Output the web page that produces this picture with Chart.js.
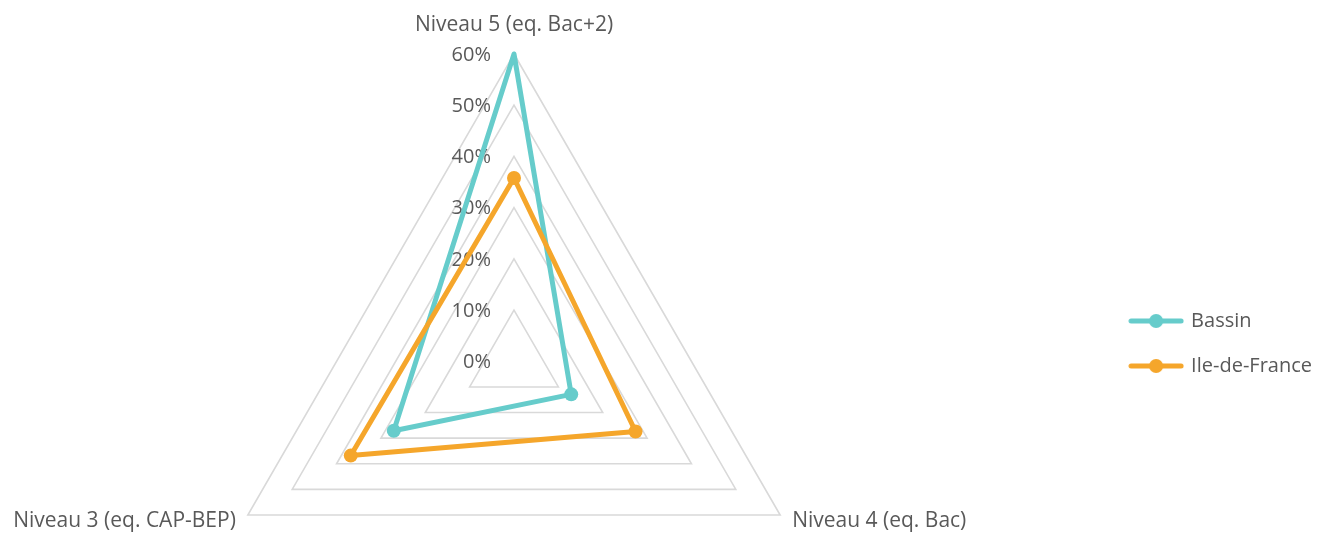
<!DOCTYPE html>
<html><head><meta charset="utf-8">
<script src="https://cdn.jsdelivr.net/npm/chart.js@4.4.0/dist/chart.umd.min.js"></script>
<style>html,body{margin:0;padding:0;background:#fff}#wrap{width:1322px;height:534px;position:relative}</style>
</head><body><div id="wrap"><canvas id="c"></canvas></div>
<script>
const categories = ['Niveau 5 (eq. Bac+2)', 'Niveau 4 (eq. Bac)', 'Niveau 3 (eq. CAP-BEP)'];
const seriesNames = ['Bassin', 'Ile-de-France'];
const bassin = [60, 12.9, 27.1];
const ileDeFrance = [35.8, 27.4, 36.8];
const tickValues = [0, 10, 20, 30, 40, 50, 60];
const tickLabels = ['0%', '10%', '20%', '30%', '40%', '50%', '60%'];

const TEAL = '#66CCCB', ORANGE = '#F5A62B', GRID = '#D9D9D9', TEXT = '#595959';
const FONT = 'Open Sans', FSIZE = 20, PSIZE = 21;
const GEOM = { cx: 514, top: 54, base: 515 };

function legendIcon(color) {
  const c = document.createElement('canvas');
  c.width = 56; c.height = 16;
  const x = c.getContext('2d');
  x.strokeStyle = color; x.lineWidth = 5; x.lineCap = 'round';
  x.beginPath(); x.moveTo(3, 8); x.lineTo(53, 8); x.stroke();
  x.fillStyle = color; x.beginPath(); x.arc(28, 8, 7, 0, Math.PI * 2); x.fill();
  return c;
}
const icons = [legendIcon(TEAL), legendIcon(ORANGE)];

const labelsPlugin = {
  id: 'customLabels',
  beforeDatasetsDraw(chart) {
    const s = chart.scales.r, ctx = chart.ctx;
    ctx.save();
    ctx.fillStyle = TEXT;
    ctx.textBaseline = 'middle';
    ctx.textAlign = 'right';
    ctx.font = FSIZE + 'px "' + FONT + '"';
    tickValues.forEach((v, i) => {
      const d = s.getDistanceFromCenterForValue(v);
      ctx.fillText(tickLabels[i], s.xCenter - 23, s.yCenter - d + 1);
    });
    ctx.font = PSIZE + 'px "' + FONT + '"';
    categories.forEach((lab, i) => {
      const p = s.getPointPosition(i, s.drawingArea);
      const dx = p.x - s.xCenter;
      if (Math.abs(dx) < 1) {
        ctx.textAlign = 'center';
        ctx.fillText(lab, p.x, p.y - 29);
      } else if (dx > 0) {
        ctx.textAlign = 'left';
        ctx.fillText(lab, p.x + 12, p.y + 6);
      } else {
        ctx.textAlign = 'right';
        ctx.fillText(lab, p.x - 12, p.y + 6);
      }
    });
    ctx.restore();
  }
};

const values = [bassin, ileDeFrance];
const colors = [TEAL, ORANGE];

new Chart(document.getElementById('c'), {
  type: 'radar',
  data: {
    labels: categories,
    datasets: seriesNames.map((n, i) => ({
      label: n,
      data: values[i],
      borderColor: colors[i],
      backgroundColor: colors[i],
      pointBackgroundColor: colors[i],
      pointBorderColor: colors[i],
      borderWidth: 5,
      pointRadius: 7,
      pointBorderWidth: 0,
      pointHoverRadius: 7,
      fill: false,
      clip: false,
      borderJoinStyle: 'round',
      order: seriesNames.length - i
    }))
  },
  options: {
    responsive: true,
    maintainAspectRatio: false,
    animation: false,
    layout: { padding: { top: 153, right: 0 } },
    plugins: {
      tooltip: { enabled: false },
      legend: {
        position: 'right',
        labels: {
          usePointStyle: true,
          pointStyleWidth: 50,
          padding: 25,
          color: TEXT,
          font: { family: FONT, size: FSIZE },
          generateLabels(chart) {
            return chart.data.datasets.map((d, i) => ({
              text: d.label, pointStyle: icons[i], fillStyle: d.borderColor,
              strokeStyle: d.borderColor, lineWidth: 0, hidden: false,
              datasetIndex: i, fontColor: TEXT
            }));
          }
        }
      }
    },
    scales: {
      r: {
        min: 0, max: 60,
        ticks: { stepSize: 10, display: false },
        pointLabels: { display: false },
        angleLines: { display: false },
        grid: { circular: false, color: GRID, lineWidth: 1.6 },
        afterFit(s) {
          const r = (GEOM.base - GEOM.top) / 1.5;
          s.drawingArea = r;
          s.xCenter = GEOM.cx;
          s.yCenter = GEOM.top + r;
        }
      }
    }
  },
  plugins: [labelsPlugin]
});
</script>
</body></html>
